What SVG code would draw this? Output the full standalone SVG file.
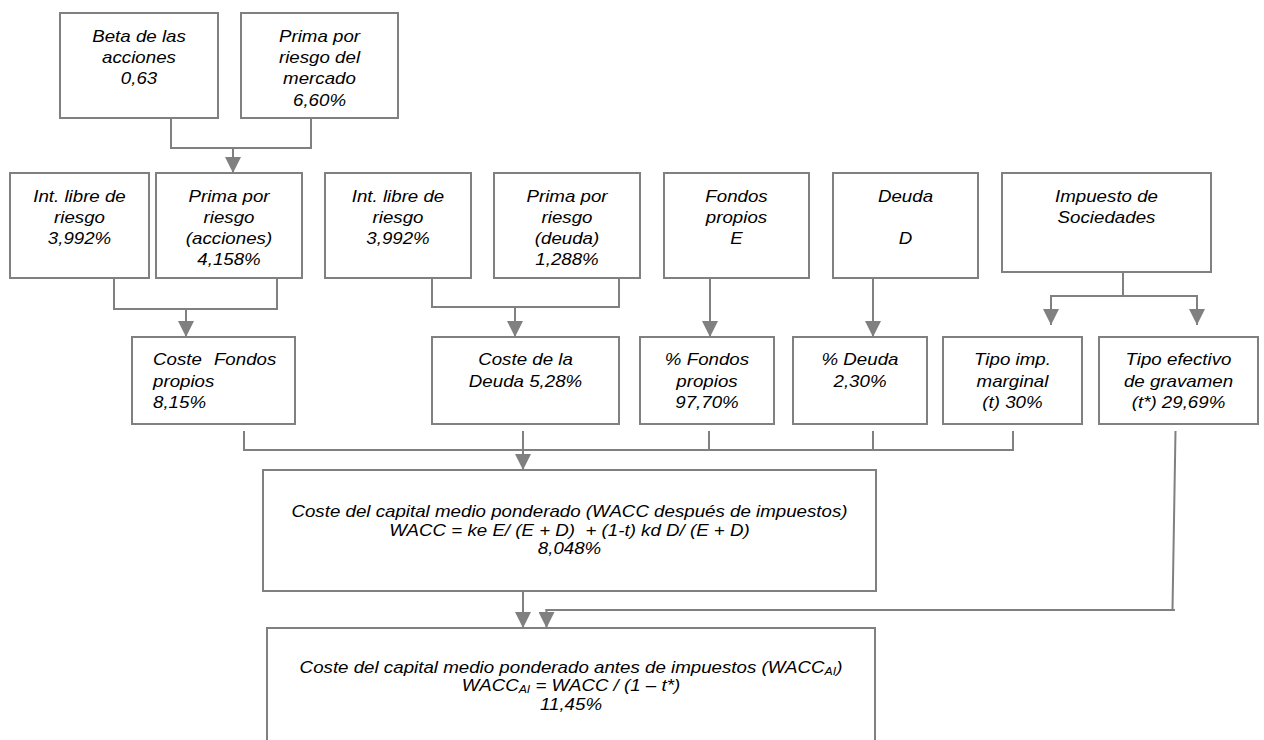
<svg xmlns="http://www.w3.org/2000/svg" width="1264" height="740" viewBox="0 0 1264 740">
<style>
.box{fill:#fff;stroke:#808080;stroke-width:2}
.t{font-family:"Liberation Sans",Arial,sans-serif;font-style:italic;font-size:16px;fill:#000;text-anchor:middle}
.l{text-anchor:start}
.sub{font-size:10.5px}
.c{fill:none;stroke:#808080;stroke-width:2}
.a{fill:none;stroke:#808080;stroke-width:2;marker-end:url(#ah)}
</style>
<defs>
<marker id="ah" markerUnits="userSpaceOnUse" markerWidth="16" markerHeight="16" viewBox="0 0 16 16" refX="16" refY="8" orient="auto">
<path d="M0,0 L16,8 L0,16 Z" fill="#808080"/>
</marker>
</defs>
<rect width="1264" height="740" fill="#fff"/>

<g id="connectors">
<polyline class="c" points="171,118 171,148 311,148 311,118"/>
<line class="a" x1="233" y1="148" x2="233" y2="173"/>
<polyline class="c" points="114,278 114,309 277,309 277,278"/>
<line class="a" x1="186" y1="309" x2="186" y2="337"/>
<polyline class="c" points="432,278 432,307 619,307 619,278"/>
<line class="a" x1="515" y1="307" x2="515" y2="337"/>
<line class="a" x1="710" y1="278" x2="710" y2="337"/>
<line class="a" x1="873" y1="278" x2="873" y2="337"/>
<line class="c" x1="1123" y1="272" x2="1123" y2="296"/>
<line class="c" x1="1050" y1="296" x2="1198" y2="296"/>
<line class="a" x1="1051" y1="295" x2="1051" y2="325"/>
<line class="a" x1="1197" y1="295" x2="1197" y2="325"/>
<line class="c" x1="243" y1="450" x2="1014" y2="450"/>
<line class="c" x1="244" y1="431" x2="244" y2="450"/>
<line class="c" x1="709" y1="431" x2="709" y2="450"/>
<line class="c" x1="873" y1="431" x2="873" y2="450"/>
<line class="c" x1="1013" y1="431" x2="1013" y2="450"/>
<line class="a" x1="523" y1="431" x2="523" y2="470"/>
<line class="a" x1="523" y1="591" x2="523" y2="628"/>
<polyline class="c" points="1175.5,431 1172.5,610"/>
<line class="c" x1="545.5" y1="610" x2="1175" y2="610"/>
<line class="a" x1="546.5" y1="609" x2="546.5" y2="628"/>
</g>

<g id="n-beta">
<rect class="box" x="60" y="13" width="158" height="105"/>
<text class="t" transform="translate(139 0) scale(1.17 1)"><tspan x="0" y="42">Beta de las</tspan><tspan x="0" y="63.2">acciones</tspan><tspan x="0" y="84.4">0,63</tspan></text>
</g>
<g id="n-prima-mercado">
<rect class="box" x="241" y="13" width="157" height="105"/>
<text class="t" transform="translate(319.5 0) scale(1.17 1)"><tspan x="0" y="42">Prima por</tspan><tspan x="0" y="63.2">riesgo del</tspan><tspan x="0" y="84.4">mercado</tspan><tspan x="0" y="105.6">6,60%</tspan></text>
</g>

<g id="n-int-libre-1">
<rect class="box" x="10" y="173" width="139" height="105"/>
<text class="t" transform="translate(79.5 0) scale(1.17 1)"><tspan x="0" y="201.7">Int. libre de</tspan><tspan x="0" y="222.9">riesgo</tspan><tspan x="0" y="244.1">3,992%</tspan></text>
</g>
<g id="n-prima-acciones">
<rect class="box" x="156" y="173" width="146" height="105"/>
<text class="t" transform="translate(229 0) scale(1.17 1)"><tspan x="0" y="201.7">Prima por</tspan><tspan x="0" y="222.9">riesgo</tspan><tspan x="0" y="244.1">(acciones)</tspan><tspan x="0" y="265.3">4,158%</tspan></text>
</g>
<g id="n-int-libre-2">
<rect class="box" x="325" y="173" width="146" height="105"/>
<text class="t" transform="translate(398 0) scale(1.17 1)"><tspan x="0" y="201.7">Int. libre de</tspan><tspan x="0" y="222.9">riesgo</tspan><tspan x="0" y="244.1">3,992%</tspan></text>
</g>
<g id="n-prima-deuda">
<rect class="box" x="494" y="173" width="146" height="105"/>
<text class="t" transform="translate(567 0) scale(1.17 1)"><tspan x="0" y="201.7">Prima por</tspan><tspan x="0" y="222.9">riesgo</tspan><tspan x="0" y="244.1">(deuda)</tspan><tspan x="0" y="265.3">1,288%</tspan></text>
</g>
<g id="n-fondos-e">
<rect class="box" x="664" y="173" width="145" height="105"/>
<text class="t" transform="translate(736.5 0) scale(1.17 1)"><tspan x="0" y="201.7">Fondos</tspan><tspan x="0" y="222.9">propios</tspan><tspan x="0" y="244.1">E</tspan></text>
</g>
<g id="n-deuda-d">
<rect class="box" x="833" y="173" width="145" height="105"/>
<text class="t" transform="translate(905.5 0) scale(1.17 1)"><tspan x="0" y="201.7">Deuda</tspan><tspan x="0" y="244.1">D</tspan></text>
</g>
<g id="n-impuesto">
<rect class="box" x="1002" y="173" width="209" height="99"/>
<text class="t" transform="translate(1106.5 0) scale(1.17 1)"><tspan x="0" y="201.7">Impuesto de</tspan><tspan x="0" y="222.9">Sociedades</tspan></text>
</g>

<g id="n-coste-fp">
<rect class="box" x="132" y="337" width="163" height="87"/>
<text class="t l" transform="translate(153 0) scale(1.17 1)"><tspan x="0" y="365.5">Coste</tspan><tspan x="52.1" y="365.5">Fondos</tspan><tspan x="0" y="386.7">propios</tspan><tspan x="0" y="407.9">8,15%</tspan></text>
</g>
<g id="n-coste-deuda">
<rect class="box" x="432" y="337" width="187" height="87"/>
<text class="t" transform="translate(525.5 0) scale(1.17 1)"><tspan x="0" y="365.5">Coste de la</tspan><tspan x="0" y="386.7">Deuda 5,28%</tspan></text>
</g>
<g id="n-pct-fp">
<rect class="box" x="640" y="337" width="134" height="87"/>
<text class="t" transform="translate(707 0) scale(1.17 1)"><tspan x="0" y="365.5">% Fondos</tspan><tspan x="0" y="386.7">propios</tspan><tspan x="0" y="407.9">97,70%</tspan></text>
</g>
<g id="n-pct-deuda">
<rect class="box" x="793" y="337" width="134" height="87"/>
<text class="t" transform="translate(860 0) scale(1.17 1)"><tspan x="0" y="365.5">% Deuda</tspan><tspan x="0" y="386.7">2,30%</tspan></text>
</g>
<g id="n-tipo-marginal">
<rect class="box" x="943" y="337" width="139" height="87"/>
<text class="t" transform="translate(1012.5 0) scale(1.17 1)"><tspan x="0" y="365.5">Tipo imp.</tspan><tspan x="0" y="386.7">marginal</tspan><tspan x="0" y="407.9">(t) 30%</tspan></text>
</g>
<g id="n-tipo-efectivo">
<rect class="box" x="1099" y="337" width="159" height="87"/>
<text class="t" transform="translate(1178.5 0) scale(1.17 1)"><tspan x="0" y="365.5">Tipo efectivo</tspan><tspan x="0" y="386.7">de gravamen</tspan><tspan x="0" y="407.9">(t*) 29,69%</tspan></text>
</g>

<g id="n-wacc">
<rect class="box" x="263" y="470" width="613" height="121"/>
<text class="t" xml:space="preserve" transform="translate(569.5 0) scale(1.17 1)"><tspan x="0" y="517.5">Coste del capital medio ponderado (WACC después de impuestos)</tspan><tspan x="0" y="536">WACC = ke E/ (E + D)  + (1-t) kd D/ (E + D)</tspan><tspan x="0" y="554.5">8,048%</tspan></text>
</g>

<g id="n-wacc-ai">
<rect class="box" x="267" y="628" width="608" height="120"/>
<text class="t" transform="translate(571 0) scale(1.17 1)"><tspan x="0" y="673">Coste del capital medio ponderado antes de impuestos (WACC<tspan class="sub" dy="2">AI</tspan><tspan dy="-2">)</tspan></tspan></text>
<text class="t" transform="translate(571 0) scale(1.17 1)"><tspan x="0" y="691.5">WACC<tspan class="sub" dy="2">AI</tspan><tspan dy="-2"> = WACC / (1 – t*)</tspan></tspan><tspan x="0" y="710">11,45%</tspan></text>
</g>
</svg>
